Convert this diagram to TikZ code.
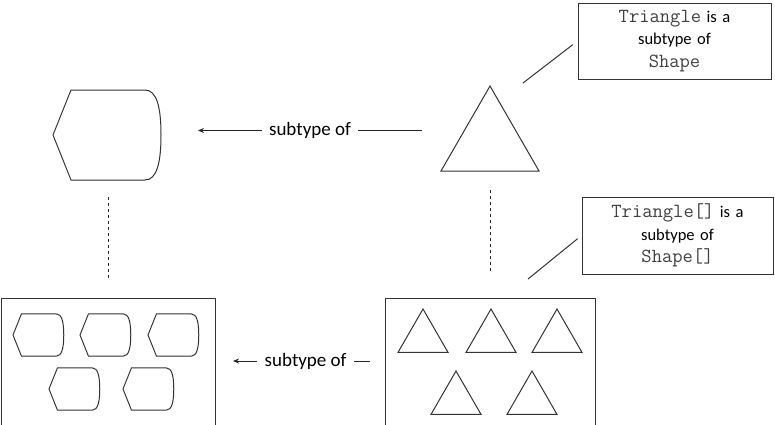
\documentclass[tikz,border=0pt]{standalone}
\usepackage{fontspec}
\setmainfont{Carlito}
\usepackage{tikz}
\usetikzlibrary{arrows.meta, positioning}

\newcommand{\code}[1]{{\fontsize{20}{22.3}\selectfont\ttfamily\color{black!75}#1}}

\begin{document}
\begin{tikzpicture}[x=1pt, y=-1pt, line width=1pt]
\tikzstyle{note} = [rectangle, draw=black!80, text width=185pt, align=center, inner sep=0pt, font=\fontsize{16.5}{22.3}\selectfont]
\tikzstyle{arraybox} = [rectangle, draw=black!80, minimum width=214pt, minimum height=134pt]
\tikzstyle{reltext} = [fill=white, inner xsep=7.5pt, font=\fontsize{19}{22}\selectfont]
\tikzstyle{link} = [draw=black!85, -{Stealth[length=6pt, width=5pt]}]
\tikzstyle{guide} = [draw=black!85, dash pattern=on 3pt off 3pt]
\tikzset{
  hexshape/.pic={\draw[black!80] (0,0) -- (18,-45) -- (92,-45) .. controls (104,-45) and (108,-27) .. (108,0) .. controls (108,27) and (104,45) .. (92,45) -- (18,45) -- cycle;},
  trishape/.pic={\draw[black!80] (0,0) -- (49,85) -- (-49,85) -- cycle;}
}

\useasboundingbox (0,0) rectangle (775,424);
\clip (0,0) rectangle (775,424);

% single shape and single triangle
\pic at (53,135) {hexshape};
\pic at (490,86) {trishape};

% the two arrays
\node (hexarray) [arraybox] at (108,365) {};
\node (triarray) [arraybox, minimum width=210pt] at (490,365) {};
\foreach \x/\y in {13/335, 80/335, 148/335, 49/389, 123/389}
  \pic[scale=0.47] at (\x,\y) {hexshape};
\foreach \x/\y in {423/309, 491/309, 557/309, 456/371, 532/371}
  \pic[scale=0.51] at (\x,\y) {trishape};

% notes
\node (note1) [note, minimum width=193pt, minimum height=76pt] at (674.5,41) {\code{Triangle} is a\\ subtype of\\ \code{Shape}};
\node (note2) [note, minimum width=191pt, minimum height=77pt] at (677.5,235.5) {\code{Triangle[]} is a\\ subtype of\\ \code{Shape[]}};

\coordinate (hexE) at (198,130.5);
\coordinate (triW) at (422,130.5);
\coordinate (hexarrE) at (233,361);
\coordinate (triarrW) at (370,361);
\coordinate (hexS) at (108,197);
\coordinate (hexarrN) at (108,278);
\coordinate (triS) at (490,190);
\coordinate (triarrN) at (490,273);
\coordinate (triNE) at (523,83);
\coordinate (triarrNE) at (528,279);

\draw [link] (triW) -- node[reltext] {subtype of} (hexE);
\draw [link] (triarrW) -- node[reltext, pos=0.47] {subtype of} (hexarrE);
\draw [guide] (hexS) -- (hexarrN);
\draw [guide] (triS) -- (triarrN);
\draw [black!80, shorten >=6pt] (triNE) -- (note1.west);
\draw [black!80, shorten >=5pt] (triarrNE) -- (note2.west);

\end{tikzpicture}
\end{document}
